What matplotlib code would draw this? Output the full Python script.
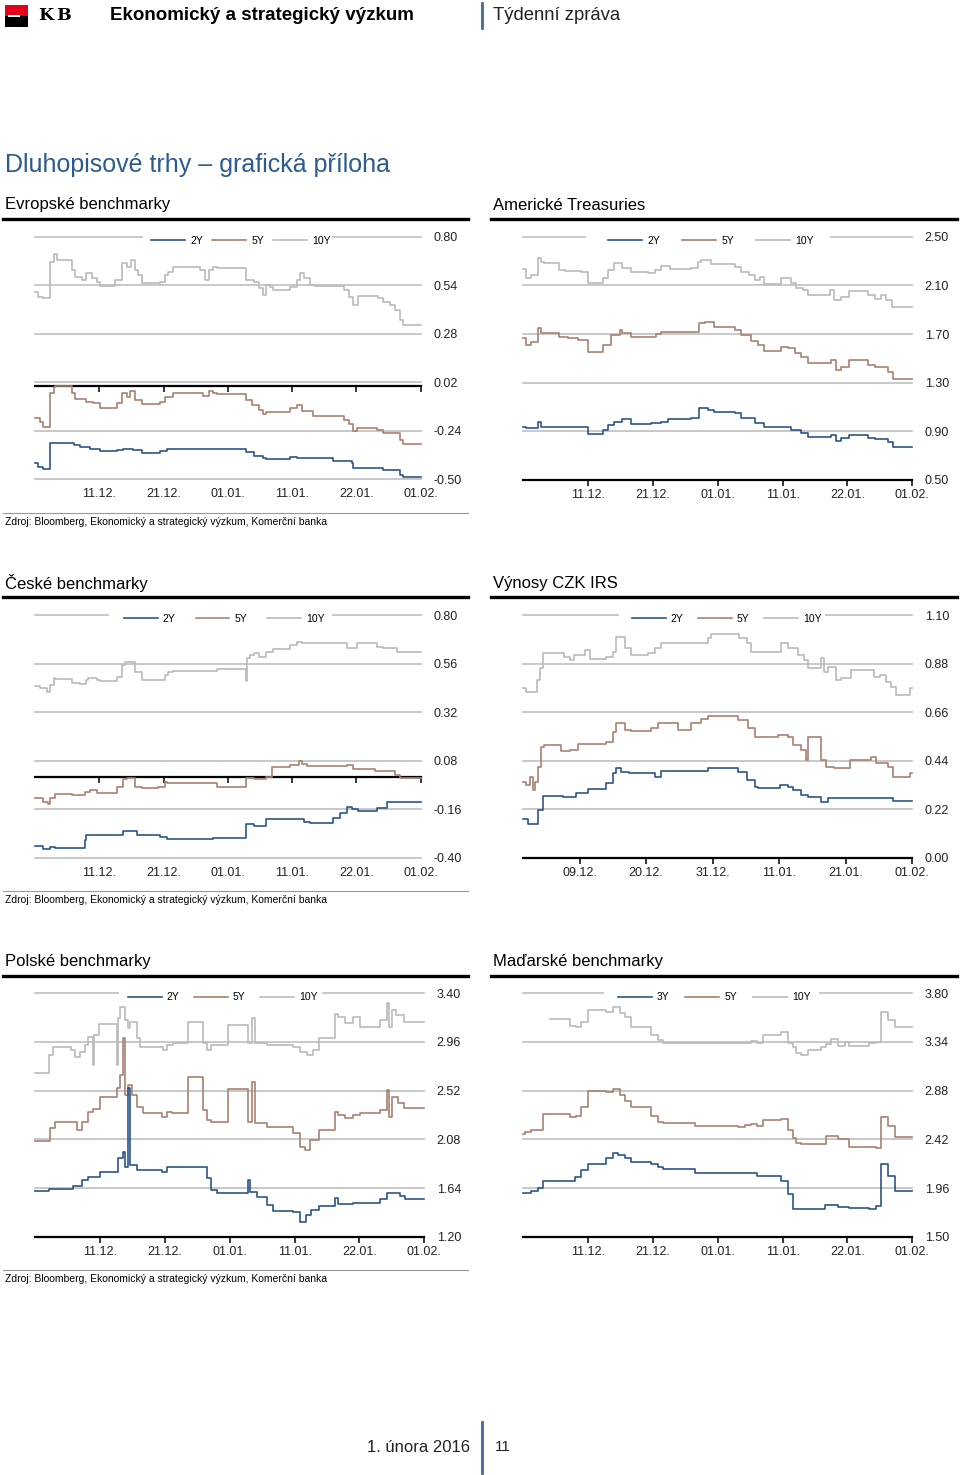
import numpy as np
import matplotlib
matplotlib.use('Agg')
import matplotlib.pyplot as plt
from matplotlib.patches import Rectangle
from matplotlib.lines import Line2D

plt.rcParams['font.family'] = ['Liberation Sans', 'DejaVu Sans']

# ---------------- data ----------------
x_labels = ['11.12.', '21.12.', '01.01.', '11.01.', '22.01.', '01.02.']
irs_x_labels = ['09.12.', '20.12.', '31.12.', '11.01.', '21.01.', '01.02.']
legend_std = ['2Y', '5Y', '10Y']
legend_hu = ['3Y', '5Y', '10Y']

eu_yticks = [0.80, 0.54, 0.28, 0.02, -0.24, -0.50]
us_yticks = [2.50, 2.10, 1.70, 1.30, 0.90, 0.50]
cz_yticks = [0.80, 0.56, 0.32, 0.08, -0.16, -0.40]
irs_yticks = [1.10, 0.88, 0.66, 0.44, 0.22, 0.00]
pl_yticks = [3.40, 2.96, 2.52, 2.08, 1.64, 1.20]
hu_yticks = [3.80, 3.34, 2.88, 2.42, 1.96, 1.50]

# series: (time position in tick units, yield)
eu_10y = [(0.00,0.505),(0.05,0.475),(0.13,0.470),(0.23,0.666),(0.29,0.705),(0.34,0.675),(0.57,0.621),(0.62,0.586),(0.73,0.568),(0.80,0.604),(0.88,0.577),(0.96,0.559),(1.01,0.537),(1.24,0.568),(1.35,0.657),(1.43,0.639),(1.50,0.675),(1.56,0.621),(1.61,0.595),(1.66,0.550),(1.95,0.559),(2.02,0.595),(2.07,0.612),(2.15,0.639),(2.57,0.621),(2.65,0.568),(2.70,0.621),(2.77,0.639),(2.83,0.630),(3.29,0.568),(3.40,0.559),(3.48,0.523),(3.55,0.487),(3.60,0.541),(3.66,0.532),(3.71,0.514),(3.97,0.532),(4.07,0.568),(4.12,0.604),(4.18,0.577),(4.28,0.541),(4.36,0.537),(4.80,0.514),(4.88,0.479),(4.95,0.434),(5.03,0.482),(5.34,0.470),(5.42,0.452),(5.52,0.434),(5.60,0.407),(5.68,0.354),(5.73,0.327),(6.00,0.327)]
eu_5y = [(0.00,-0.173),(0.08,-0.191),(0.13,-0.218),(0.23,-0.039),(0.29,-0.004),(0.31,0.0),(0.57,-0.039),(0.62,-0.072),(0.80,-0.084),(0.91,-0.093),(1.01,-0.116),(1.27,-0.093),(1.35,-0.039),(1.43,-0.057),(1.48,-0.025),(1.56,-0.075),(1.66,-0.098),(1.95,-0.084),(2.02,-0.057),(2.15,-0.036),(2.62,-0.054),(2.70,-0.027),(2.77,-0.036),(2.83,-0.045),(3.29,-0.075),(3.37,-0.102),(3.48,-0.129),(3.55,-0.150),(3.60,-0.138),(3.97,-0.120),(4.07,-0.102),(4.15,-0.132),(4.33,-0.161),(4.80,-0.182),(4.88,-0.204),(4.95,-0.241),(5.01,-0.227),(5.32,-0.236),(5.42,-0.250),(5.55,-0.254),(5.68,-0.289),(5.73,-0.313),(6.00,-0.313)]
eu_2y = [(0.00,-0.414),(0.05,-0.432),(0.13,-0.447),(0.23,-0.307),(0.60,-0.316),(0.70,-0.325),(0.86,-0.339),(1.01,-0.348),(1.27,-0.343),(1.37,-0.338),(1.53,-0.343),(1.66,-0.361),(1.95,-0.348),(2.05,-0.339),(2.15,-0.336),(3.29,-0.355),(3.40,-0.375),(3.55,-0.388),(3.60,-0.389),(3.97,-0.382),(4.07,-0.388),(4.64,-0.400),(4.93,-0.414),(4.95,-0.441),(5.42,-0.450),(5.68,-0.477),(5.73,-0.486),(6.00,-0.486)]

us_10y = [(0.00,2.232),(0.05,2.158),(0.13,2.185),(0.23,2.322),(0.28,2.295),(0.33,2.281),(0.56,2.226),(0.64,2.221),(0.90,2.212),(1.00,2.122),(1.23,2.158),(1.31,2.226),(1.41,2.286),(1.52,2.240),(1.67,2.207),(1.93,2.199),(2.03,2.226),(2.13,2.259),(2.26,2.234),(2.59,2.240),(2.70,2.295),(2.75,2.308),(2.90,2.275),(3.26,2.253),(3.36,2.212),(3.49,2.185),(3.57,2.144),(3.65,2.171),(3.72,2.108),(3.98,2.158),(4.13,2.116),(4.21,2.075),(4.31,2.062),(4.39,2.021),(4.73,2.062),(4.80,1.979),(4.90,2.001),(5.03,2.056),(5.32,2.021),(5.42,1.988),(5.52,2.021),(5.60,1.979),(5.68,1.919),(6.00,1.919)]
us_5y = [(0.00,1.664),(0.05,1.610),(0.13,1.637),(0.23,1.747),(0.28,1.705),(0.56,1.678),(0.69,1.664),(0.85,1.651),(1.00,1.549),(1.23,1.610),(1.36,1.692),(1.49,1.733),(1.52,1.705),(1.67,1.678),(2.05,1.697),(2.13,1.719),(2.72,1.788),(2.80,1.801),(2.95,1.760),(3.26,1.733),(3.36,1.692),(3.52,1.645),(3.62,1.610),(3.72,1.560),(3.98,1.596),(4.08,1.582),(4.19,1.541),(4.29,1.514),(4.39,1.459),(4.75,1.486),(4.83,1.404),(4.90,1.432),(5.03,1.486),(5.32,1.445),(5.42,1.432),(5.62,1.390),(5.70,1.327),(6.00,1.327)]
us_2y = [(0.00,0.938),(0.05,0.925),(0.23,0.979),(0.28,0.938),(0.56,0.933),(1.00,0.875),(1.23,0.911),(1.31,0.952),(1.41,0.979),(1.52,1.001),(1.67,0.960),(1.98,0.966),(2.13,0.979),(2.23,1.001),(2.59,1.007),(2.72,1.089),(2.85,1.075),(2.95,1.056),(3.26,1.048),(3.36,1.007),(3.57,0.966),(3.72,0.933),(3.98,0.938),(4.13,0.911),(4.29,0.884),(4.39,0.851),(4.75,0.870),(4.83,0.823),(4.90,0.842),(5.03,0.870),(5.32,0.842),(5.42,0.834),(5.62,0.815),(5.70,0.768),(6.00,0.768)]

cz_10y = [(0.00,0.449),(0.08,0.437),(0.18,0.421),(0.23,0.454),(0.29,0.487),(0.31,0.482),(0.57,0.465),(0.70,0.459),(0.80,0.479),(0.83,0.487),(0.96,0.479),(1.01,0.475),(1.27,0.495),(1.35,0.553),(1.40,0.566),(1.56,0.520),(1.66,0.479),(2.02,0.503),(2.07,0.520),(2.15,0.525),(2.83,0.531),(3.28,0.475),(3.30,0.586),(3.35,0.602),(3.40,0.610),(3.48,0.594),(3.60,0.619),(3.71,0.630),(3.97,0.652),(4.07,0.668),(4.15,0.660),(4.23,0.663),(4.85,0.635),(5.01,0.660),(5.32,0.643),(5.42,0.635),(5.63,0.619),(5.73,0.615),(6.00,0.615)]
cz_5y = [(0.00,-0.103),(0.13,-0.123),(0.21,-0.136),(0.23,-0.106),(0.31,-0.087),(0.57,-0.090),(0.78,-0.073),(0.86,-0.065),(0.96,-0.078),(1.27,-0.049),(1.37,-0.011),(1.43,-0.008),(1.56,-0.049),(1.66,-0.057),(1.92,-0.049),(2.02,-0.024),(2.05,-0.032),(2.83,-0.049),(3.29,-0.008),(3.40,-0.012),(3.60,0.001),(3.68,0.050),(3.97,0.058),(4.10,0.078),(4.15,0.063),(4.23,0.055),(4.85,0.058),(4.95,0.037),(5.29,0.030),(5.60,0.009),(5.68,-0.004),(6.00,-0.004)]
cz_2y = [(0.00,-0.342),(0.13,-0.359),(0.23,-0.349),(0.31,-0.350),(0.78,-0.312),(0.80,-0.288),(1.37,-0.268),(1.58,-0.288),(1.95,-0.299),(2.05,-0.308),(2.77,-0.301),(3.29,-0.233),(3.40,-0.243),(3.60,-0.210),(4.18,-0.222),(4.28,-0.227),(4.64,-0.205),(4.75,-0.181),(4.85,-0.151),(4.93,-0.161),(5.03,-0.167),(5.32,-0.156),(5.47,-0.123),(5.55,-0.126),(6.00,-0.126)]

irs_10y = [(0.15,0.768),(0.20,0.752),(0.36,0.805),(0.40,0.858),(0.45,0.926),(0.77,0.911),(0.85,0.896),(0.92,0.919),(1.08,0.941),(1.15,0.899),(1.40,0.911),(1.50,0.934),(1.55,0.999),(1.68,0.949),(1.78,0.919),(2.03,0.929),(2.13,0.949),(2.23,0.972),(2.33,0.975),(2.93,0.994),(2.98,1.012),(3.40,0.994),(3.51,0.972),(3.58,0.934),(3.66,0.934),(4.03,0.975),(4.13,0.949),(4.28,0.919),(4.38,0.896),(4.43,0.861),(4.63,0.904),(4.68,0.843),(4.73,0.866),(4.86,0.805),(4.93,0.813),(5.08,0.851),(5.43,0.820),(5.51,0.828),(5.61,0.798),(5.68,0.772),(5.76,0.737),(5.96,0.768),(6.00,0.768)]
irs_5y = [(0.15,0.345),(0.20,0.329),(0.25,0.367),(0.30,0.307),(0.33,0.345),(0.37,0.412),(0.42,0.503),(0.47,0.511),(0.72,0.485),(0.85,0.488),(0.97,0.515),(1.13,0.514),(1.40,0.526),(1.50,0.571),(1.55,0.612),(1.68,0.579),(1.78,0.576),(2.08,0.586),(2.18,0.609),(2.48,0.579),(2.68,0.609),(2.83,0.627),(2.93,0.642),(3.38,0.624),(3.53,0.586),(3.63,0.548),(3.68,0.545),(3.98,0.556),(4.13,0.548),(4.21,0.511),(4.33,0.488),(4.41,0.443),(4.43,0.545),(4.63,0.443),(4.71,0.412),(4.83,0.405),(5.06,0.443),(5.38,0.458),(5.46,0.428),(5.63,0.412),(5.71,0.364),(5.96,0.382),(6.00,0.382)]
irs_2y = [(0.15,0.175),(0.22,0.153),(0.37,0.216),(0.45,0.281),(0.75,0.276),(0.95,0.292),(1.13,0.310),(1.40,0.337),(1.50,0.382),(1.55,0.408),(1.63,0.390),(1.75,0.382),(2.13,0.367),(2.23,0.393),(2.93,0.408),(3.38,0.390),(3.51,0.352),(3.63,0.322),(3.68,0.314),(4.01,0.329),(4.13,0.322),(4.21,0.307),(4.33,0.284),(4.43,0.273),(4.63,0.254),(4.73,0.269),(5.06,0.272),(5.71,0.257),(6.00,0.257)]

pl_10y = [(0.00,2.683),(0.21,2.842),(0.28,2.918),(0.56,2.888),(0.62,2.827),(0.69,2.873),(0.77,2.933),(0.82,3.008),(0.89,2.752),(0.91,3.023),(0.98,3.120),(1.26,2.752),(1.28,3.174),(1.31,3.279),(1.39,3.159),(1.44,3.084),(1.46,3.138),(1.57,2.993),(1.62,2.918),(1.98,2.888),(2.03,2.933),(2.13,2.948),(2.36,3.144),(2.59,2.948),(2.65,2.888),(2.72,2.933),(2.98,3.114),(3.29,2.948),(3.34,3.174),(3.39,2.948),(3.57,2.933),(3.98,2.918),(4.08,2.873),(4.19,2.842),(4.29,2.888),(4.37,2.993),(4.62,3.210),(4.67,3.189),(4.78,3.129),(4.90,3.189),(5.01,3.093),(5.32,3.159),(5.42,3.310),(5.45,3.093),(5.50,3.249),(5.57,3.204),(5.68,3.144),(6.00,3.144)]
pl_5y = [(0.00,2.065),(0.23,2.179),(0.31,2.240),(0.64,2.164),(0.72,2.240),(0.82,2.324),(0.90,2.354),(1.00,2.466),(1.26,2.541),(1.31,2.662),(1.36,2.993),(1.38,2.481),(1.44,2.571),(1.49,2.481),(1.57,2.375),(1.67,2.321),(1.95,2.285),(2.03,2.330),(2.11,2.321),(2.36,2.640),(2.59,2.345),(2.65,2.255),(2.72,2.240),(2.98,2.535),(3.29,2.240),(3.34,2.601),(3.39,2.225),(3.57,2.194),(3.98,2.134),(4.08,2.014),(4.16,1.983),(4.24,2.074),(4.37,2.164),(4.62,2.330),(4.67,2.300),(4.78,2.270),(4.90,2.300),(5.01,2.315),(5.32,2.345),(5.42,2.526),(5.45,2.285),(5.50,2.466),(5.60,2.405),(5.68,2.366),(6.00,2.366)]
pl_2y = [(0.00,1.613),(0.21,1.631),(0.59,1.661),(0.72,1.712),(0.82,1.742),(1.00,1.787),(1.28,1.908),(1.36,1.968),(1.39,1.833),(1.44,2.541),(1.46,1.848),(1.57,1.803),(1.95,1.787),(2.03,1.833),(2.65,1.727),(2.72,1.622),(2.80,1.592),(3.29,1.712),(3.31,1.607),(3.42,1.561),(3.57,1.486),(3.67,1.435),(3.98,1.426),(4.08,1.335),(4.18,1.396),(4.26,1.441),(4.37,1.480),(4.62,1.546),(4.67,1.492),(4.90,1.501),(5.32,1.540),(5.42,1.592),(5.62,1.567),(5.70,1.540),(6.00,1.540)]

hu_10y = [(0.41,3.557),(0.72,3.491),(0.82,3.479),(0.90,3.526),(1.00,3.642),(1.28,3.620),(1.39,3.674),(1.49,3.611),(1.57,3.573),(1.67,3.485),(1.98,3.406),(2.08,3.359),(2.16,3.327),(3.52,3.349),(3.60,3.327),(3.70,3.406),(3.98,3.431),(4.08,3.327),(4.16,3.296),(4.21,3.233),(4.29,3.217),(4.39,3.264),(4.60,3.296),(4.67,3.318),(4.75,3.365),(4.85,3.302),(4.96,3.343),(5.03,3.302),(5.34,3.327),(5.44,3.343),(5.52,3.620),(5.62,3.548),(5.73,3.485),(6.00,3.485)]
hu_5y = [(0.00,2.467),(0.03,2.492),(0.13,2.508),(0.31,2.656),(0.72,2.634),(0.82,2.644),(0.90,2.722),(1.00,2.877),(1.28,2.870),(1.39,2.896),(1.49,2.839),(1.57,2.782),(1.67,2.729),(1.98,2.644),(2.08,2.587),(2.16,2.577),(2.65,2.546),(3.31,2.536),(3.42,2.555),(3.52,2.565),(3.60,2.549),(3.70,2.603),(3.98,2.612),(4.08,2.508),(4.16,2.429),(4.21,2.382),(4.29,2.373),(4.67,2.455),(4.85,2.420),(5.03,2.350),(5.44,2.335),(5.52,2.628),(5.62,2.549),(5.73,2.442),(6.00,2.442)]
hu_3y = [(0.00,1.909),(0.13,1.931),(0.23,1.957),(0.31,2.026),(0.80,2.067),(0.90,2.130),(1.00,2.187),(1.28,2.247),(1.39,2.294),(1.46,2.272),(1.57,2.247),(1.67,2.202),(1.98,2.184),(2.08,2.155),(2.16,2.136),(2.65,2.105),(3.60,2.070),(3.98,2.029),(4.08,1.903),(4.16,1.758),(4.65,1.799),(4.85,1.783),(5.03,1.774),(5.34,1.758),(5.44,1.790),(5.52,2.187),(5.62,2.073),(5.73,1.931),(6.00,1.931)]

# ---------------- styling ----------------
W, H = 960, 1475
C_SHORT = '#2b5686'
C_MID = '#a88171'
C_LONG = '#bababa'
GRID = '#c4c4c4'
BLUE_T = '#2c5b8e'
COLORS = [C_SHORT, C_MID, C_LONG]

fig = plt.figure(figsize=(9.6, 14.75), dpi=100)


def fx(x):
    return x / W


def fy(y):
    return 1 - y / H


def hline(x0, x1, y, **kw):
    fig.add_artist(Line2D([fx(x0), fx(x1)], [fy(y), fy(y)], **kw))


def draw_chart(box, xlim, yticks, xlabels, series, labels, zero_axis, gap, leg_cx, colsp):
    l, r, t, b = box
    ax = fig.add_axes([l / W, 1 - b / H, (r - l) / W, (b - t) / H])
    ax.set_xlim(*xlim)
    ax.set_ylim(min(yticks), max(yticks))
    for s in ax.spines.values():
        s.set_visible(False)
    ytop = max(yticks)
    for yv in yticks:
        if yv == ytop:
            ax.axhline(yv, 0, gap[0], color=GRID, lw=1.3, clip_on=False, zorder=1)
            ax.axhline(yv, gap[1], 1, color=GRID, lw=1.3, clip_on=False, zorder=1)
        else:
            ax.axhline(yv, color=GRID, lw=1.3, clip_on=False, zorder=1)
    # draw long first, short last
    for data, col in list(zip(series, COLORS))[::-1]:
        tt, vv = zip(*data)
        ax.plot(tt, vv, drawstyle='steps-post', color=col, lw=1.2, zorder=3, clip_on=False)
    ax.yaxis.tick_right()
    ax.set_yticks(yticks)
    ax.set_yticklabels([f'{v:.2f}' for v in yticks])
    ax.tick_params(axis='y', length=0, pad=9, labelsize=9, labelcolor='#222222')
    ax.set_xticks(range(1, 7))
    ax.set_xticklabels(xlabels)
    if zero_axis:
        ax.tick_params(axis='x', length=0, pad=6.5, labelsize=9, labelcolor='#222222')
        sec = ax.secondary_xaxis(0, transform=ax.transData)
        sec.set_xticks(range(1, 7))
        sec.set_xticklabels([''] * 6)
        sec.tick_params(axis='x', direction='out', length=4, width=1.1, color='black')
        sec.spines['bottom'].set_linewidth(1.6)
        sec.spines['bottom'].set_color('black')
    else:
        ax.spines['bottom'].set_visible(True)
        ax.spines['bottom'].set_linewidth(1.6)
        ax.spines['bottom'].set_color('black')
        ax.spines['bottom'].set_zorder(4)
        ax.tick_params(axis='x', direction='out', length=4, width=1.1, pad=2.5,
                       labelsize=9, labelcolor='#222222')
    handles = [Line2D([], [], color=c, lw=1.2) for c in COLORS]
    ax.legend(handles, labels, loc='center', bbox_to_anchor=(leg_cx, 0.9835), ncol=3,
              frameon=False, fontsize=7.5, handlelength=3.25, handletextpad=0.5,
              columnspacing=colsp, borderpad=0, borderaxespad=0)
    return ax


# ---------------- header ----------------
fig.add_artist(Rectangle((fx(5), fy(16)), fx(23), 11 / H, transform=fig.transFigure,
                         facecolor='#e2001a', edgecolor='none'))
fig.add_artist(Rectangle((fx(5), fy(27)), fx(23), 11 / H, transform=fig.transFigure,
                         facecolor='black', edgecolor='none'))
fig.add_artist(Rectangle((fx(8), fy(17)), fx(12), 2 / H, transform=fig.transFigure,
                         facecolor='white', edgecolor='none'))
fig.text(fx(38), fy(15), 'K', fontsize=12.5, fontweight='bold', va='center', ha='left',
         family=['DejaVu Serif', 'DejaVu Sans'])
fig.text(fx(56), fy(15), 'B', fontsize=12.5, fontweight='bold', va='center', ha='left',
         family=['DejaVu Serif', 'DejaVu Sans'])
fig.text(fx(110), fy(15), 'Ekonomický a strategický výzkum', fontsize=13.5, fontweight='bold',
         va='center', ha='left')
fig.add_artist(Line2D([fx(482), fx(482)], [fy(3), fy(28)], color='#3d6a94', lw=2))
fig.text(fx(493), fy(15), 'Týdenní zpráva', fontsize=13.3, va='center', ha='left', color='#222222')

fig.text(fx(5), fy(165), 'Dluhopisové trhy – grafická příloha', fontsize=18, color=BLUE_T,
         va='center', ha='left')

# ---------------- sections ----------------
row_dy = 378.3
sections = [('Evropské benchmarky', 'Americké Treasuries'),
            ('České benchmarky', 'Výnosy CZK IRS'),
            ('Polské benchmarky', 'Maďarské benchmarky')]
for i, (lt, rt) in enumerate(sections):
    off = i * row_dy
    fig.text(fx(5), fy(205 + off), lt, fontsize=12, va='center', ha='left')
    fig.text(fx(493), fy(205 + off), rt, fontsize=12, va='center', ha='left')
    hline(3, 468, 219 + off, color='black', lw=2.4)
    hline(491, 957, 219 + off, color='black', lw=2.4)
    hline(3, 468, 513 + off, color='#9a9a9a', lw=0.8)
    fig.text(fx(5), fy(522 + off), 'Zdroj: Bloomberg, Ekonomický a strategický výzkum, Komerční banka',
             fontsize=7.5, va='center', ha='left')

# ---------------- charts ----------------
draw_chart((35, 420.7, 236.7, 479.3), (0, 6), eu_yticks, x_labels,
           [eu_2y, eu_5y, eu_10y], legend_std, True, (0.277, 0.773), 0.534, 0.85)
draw_chart((523, 912.3, 236.7, 480.0), (0, 6), us_yticks, x_labels,
           [us_2y, us_5y, us_10y], legend_std, False, (0.159, 0.791), 0.483, 2.1)
draw_chart((35, 420.7, 615.0, 857.7), (0, 6), cz_yticks, x_labels,
           [cz_2y, cz_5y, cz_10y], legend_std, True, (0.189, 0.773), 0.491, 1.9)
draw_chart((523, 912.3, 615.0, 857.7), (0.15, 6), irs_yticks, irs_x_labels,
           [irs_2y, irs_5y, irs_10y], legend_std, False, (0.244, 0.778), 0.523, 1.35)
draw_chart((35, 424.3, 993.3, 1236.7), (0, 6), pl_yticks, x_labels,
           [pl_2y, pl_5y, pl_10y], legend_std, False, (0.213, 0.740), 0.482, 1.35)
draw_chart((523, 912.3, 993.3, 1236.7), (0, 6), hu_yticks, x_labels,
           [hu_3y, hu_5y, hu_10y], legend_hu, False, (0.205, 0.763), 0.491, 1.5)

# ---------------- footer ----------------
fig.text(fx(470), fy(1447), '1. února 2016', fontsize=12, va='center', ha='right', color='#222222')
fig.add_artist(Line2D([fx(482), fx(482)], [fy(1422), fy(1473)], color='#3d6a94', lw=2))
fig.text(fx(495), fy(1447), '11', fontsize=11, va='center', ha='left', color='#222222')

fig.savefig('out.png', dpi=100)
